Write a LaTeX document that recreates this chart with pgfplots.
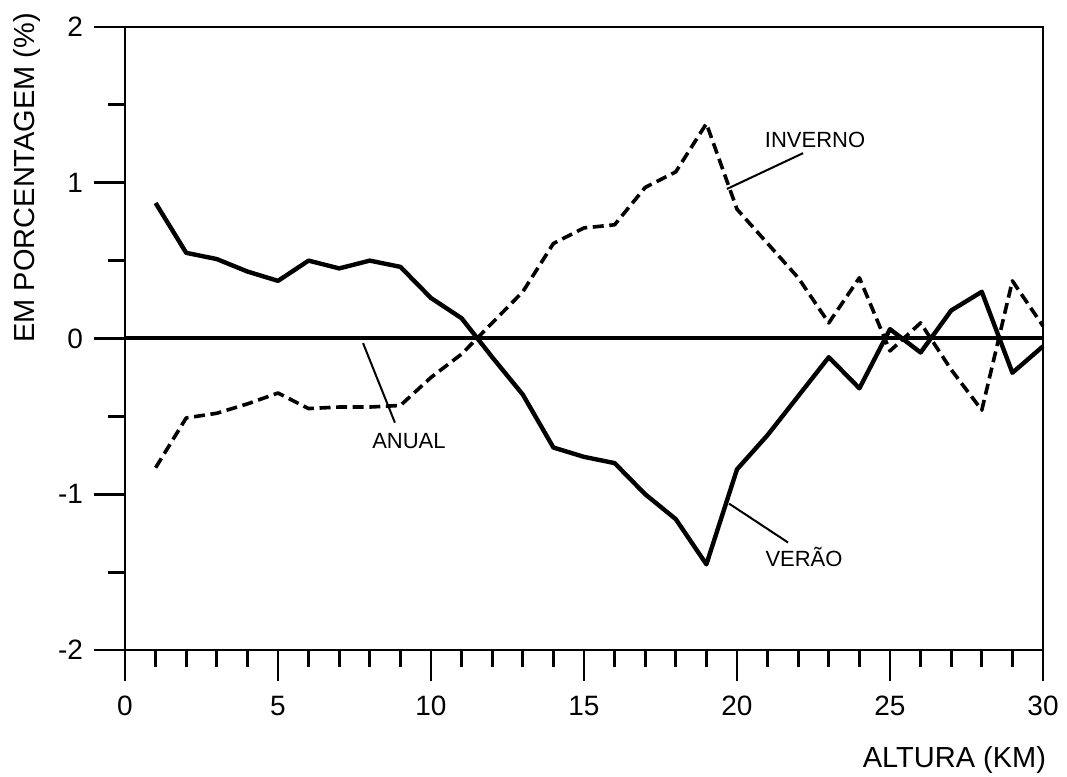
\documentclass[border=0pt]{standalone}
\usepackage{fontspec}
\setmainfont{Liberation Sans}
\usepackage{pgfplots}
\pgfplotsset{compat=1.18}
\begin{document}
\begin{tikzpicture}
\begin{axis}[
  at={(0,0)}, anchor=south west,
  scale only axis, width=459pt, height=311.5pt,
  xmin=0, xmax=30, ymin=-2, ymax=2,
  xtick={0,5,...,30}, xticklabels={0,5,10,15,20,25,30},
  minor xtick={1,...,29},
  ytick={-2,-1,0,1,2}, yticklabels={-2,-1,0,1,2},
  minor ytick={-1.5,-0.5,0.5,1.5},
  tick pos=left, tick align=outside,
  major tick length=15.5pt, minor tick length=8.5pt,
  every tick/.style={black, line width=1.4pt},
  axis line style={line width=1.4pt},
  ticklabel style={font=\fontsize{14}{16}\selectfont},
  xticklabel style={yshift=-4pt},
  yticklabel style={xshift=-2pt},
  xlabel={ALTURA (KM)},
  xlabel style={at={(axis description cs:1.011,-0.1766)}, anchor=east, font=\fontsize{14.5}{16}\selectfont},
  ylabel={EM PORCENTAGEM (\%)},
  ylabel style={at={(axis description cs:-0.107,0.758)}, anchor=center, font=\fontsize{14.5}{16}\selectfont},
  clip=false,
]
\addplot[line width=2pt, black] coordinates {(0,0) (30,0)};
% VERAO (solid)
\addplot[line width=2.2pt, black, line join=round] table {
x y
1 0.87
2 0.55
3 0.51
4 0.43
5 0.37
6 0.50
7 0.45
8 0.50
9 0.46
10 0.26
11 0.13
12 -0.12
13 -0.36
14 -0.70
15 -0.76
16 -0.80
17 -1.00
18 -1.16
19 -1.45
20 -0.84
21 -0.62
22 -0.37
23 -0.12
24 -0.32
25 0.06
26 -0.09
27 0.18
28 0.30
29 -0.22
30 -0.05
};
% INVERNO (dashed)
\addplot[line width=1.8pt, black, dash pattern=on 5.5pt off 2.8pt, line join=round] table {
x y
1 -0.83
2 -0.51
3 -0.48
4 -0.42
5 -0.35
6 -0.45
7 -0.44
8 -0.44
9 -0.43
10 -0.25
11 -0.10
12 0.10
13 0.30
14 0.61
15 0.71
16 0.73
17 0.97
18 1.07
19 1.38
20 0.83
21 0.61
22 0.39
23 0.10
24 0.39
25 -0.08
26 0.10
27 -0.20
28 -0.46
29 0.37
30 0.08
};
\node[anchor=base, font=\fontsize{11}{13}\selectfont] at (axis cs:22.55,1.226) {INVERNO};
\draw[line width=1pt] (axis cs:19.67,0.96) -- (axis cs:22.16,1.19);
\node[anchor=base, font=\fontsize{11}{13}\selectfont] at (axis cs:22.19,-1.464) {VERÃO};
\draw[line width=1pt] (axis cs:19.74,-1.06) -- (axis cs:21.67,-1.31);
\node[anchor=base, font=\fontsize{11}{13}\selectfont] at (axis cs:9.28,-0.706) {ANUAL};
\draw[line width=1pt] (axis cs:7.78,-0.03) -- (axis cs:8.82,-0.54);
\end{axis}
\pgfresetboundingbox
\useasboundingbox (-62.5pt,-63.5pt) rectangle (471pt,325pt);
\end{tikzpicture}
\end{document}
